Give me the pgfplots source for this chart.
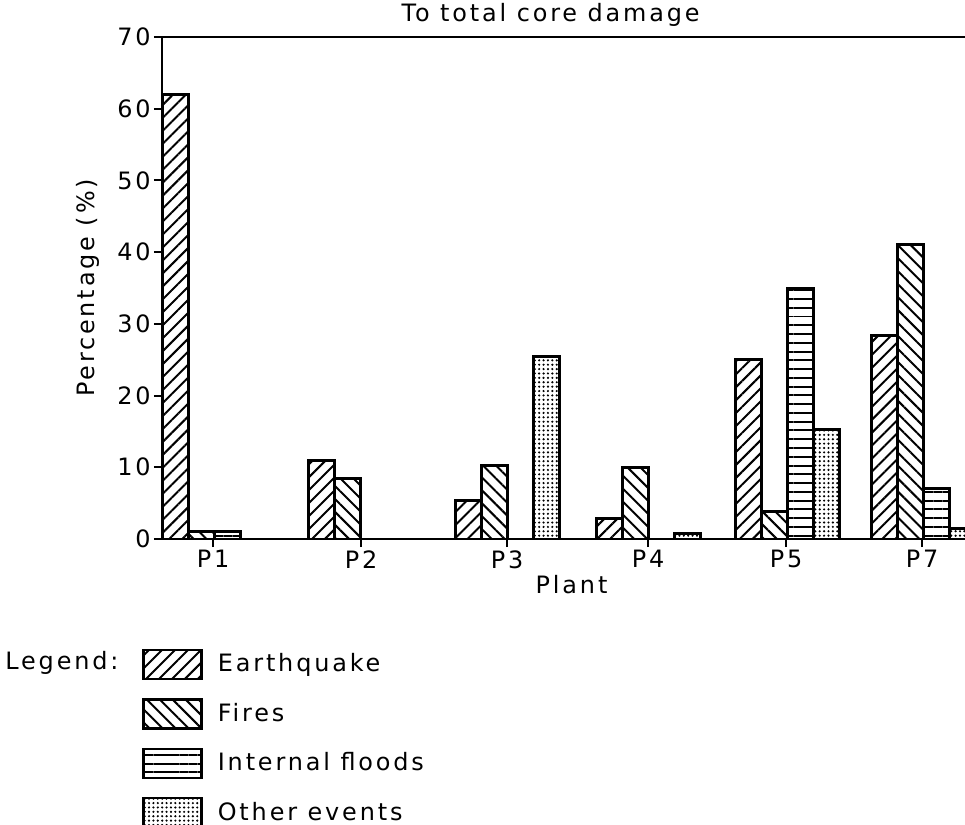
\documentclass[border=0pt]{standalone}
\usepackage{pgfplots}
\pgfplotsset{compat=1.18}
\usepackage{fontspec}
\setmainfont{DejaVu Sans}[LetterSpace=12]
\usetikzlibrary{patterns.meta}
\begin{document}
\fontsize{12}{14}\selectfont
\begin{tikzpicture}
\begin{axis}[
  name=ax,
  scale only axis,
  width=401.5bp, height=251bp,
  xmin=162, xmax=965,
  ymin=0, ymax=70,
  ybar=0pt,
  bar width=26,
  axis x line=bottom,
  axis y line=left,
  axis line style={-, line width=1bp},
  tick align=outside,
  major tick length=4bp,
  tick style={line width=1bp, black},
  xtick={213,361,507,648,786,922},
  xticklabels={P1,P2,P3,P4,P5,P7},
  ytick={0,10,...,70},
  /pgf/number format/assume math mode=true,
  yticklabel style={inner sep=1.5bp},
  xticklabel style={inner sep=1.5bp},
  xlabel={Plant},
  ylabel={Percentage (\%)},
  every axis x label/.style={at={(axis description cs:0.51,-0.0916)}, anchor=center},
  every axis y label/.style={at={(axis description cs:-0.0922,0.5)}, anchor=center, rotate=90},
  title={To total core damage},
  every axis title/.style={at={(axis description cs:0.484,1.044)}, anchor=center},
  every axis plot/.append style={
    draw=black, line width=1.5bp,
    legend image code/.code={\draw[#1, line width=1.2bp] (0bp,-7.25bp) rectangle (29bp,7.25bp);}
  },
  legend style={draw=none, fill=none, inner sep=0pt,
    at={(axis description cs:-0.0249,-0.218)}, anchor=north west,
    row sep=9bp, column sep=7.5bp,
    nodes={inner sep=0pt, anchor=west}},
  legend cell align=left,
]
\addplot[bar shift=-39, pattern={Lines[angle=45,distance=4.6pt,line width=1pt]}]
  coordinates {(214,62.0) (360,10.9) (507,5.3) (648,2.8) (787,25.1) (923,28.4)};
\addplot[bar shift=-13, pattern={Lines[angle=-45,distance=4.6pt,line width=1pt]}]
  coordinates {(214,1.0) (360,8.5) (507,10.2) (648,10.0) (787,3.9) (923,41.1)};
\addplot[bar shift=13, pattern={Lines[angle=0,distance=4.4pt,line width=1pt]}]
  coordinates {(214,1.0) (787,34.9) (923,7.1)};
\addplot[bar shift=39, pattern={Dots[distance=2.2pt,radius=0.6pt]}]
  coordinates {(507,25.4) (648,0.8) (787,15.2) (923,1.5)};
\legend{Earthquake,Fires,Internal floods,Other events}
\end{axis}
\draw[line width=1bp] (ax.north west) -- (ax.north east);
\node[anchor=west, inner sep=0pt] at ([xshift=-78.5bp,yshift=-62bp]ax.south west) {Legend:};
\pgfresetboundingbox
\path ([xshift=-81bp,yshift=-143bp]ax.south west) rectangle ([yshift=18.5bp]ax.north east);
\end{tikzpicture}
\end{document}
